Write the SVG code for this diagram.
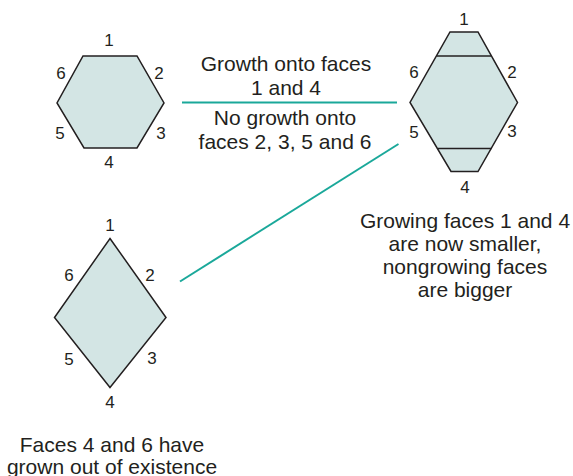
<svg xmlns="http://www.w3.org/2000/svg" width="573" height="476" viewBox="0 0 573 476">
<style>
.shape{fill:#d3e5e4;stroke:#231f20;stroke-width:1.5;stroke-linejoin:miter}
.div{stroke:#231f20;stroke-width:1.5;fill:none}
.num{font-family:"Liberation Sans",Arial,sans-serif;font-size:17px;fill:#231f20;text-anchor:middle}
.txt{font-family:"Liberation Sans",Arial,sans-serif;font-size:21px;fill:#231f20;text-anchor:middle}
.conn{stroke:#1aa89a;stroke-width:2;fill:none}
</style>
<rect width="573" height="476" fill="#ffffff"/>
<g id="connectors">
<line class="conn" x1="182" y1="102.5" x2="397" y2="102.5"/>
<line class="conn" x1="180" y1="281.5" x2="398.5" y2="144"/>
</g>
<g id="hexagon-original">
<polygon class="shape" points="83,56 137,56 164,103 137,148 84,148 57,103"/>
<text class="num" x="109" y="46">1</text>
<text class="num" x="61" y="78.5">6</text>
<text class="num" x="159" y="78.5">2</text>
<text class="num" x="60" y="139">5</text>
<text class="num" x="161" y="139">3</text>
<text class="num" x="109" y="167.5">4</text>
</g>
<g id="hexagon-grown">
<polygon class="shape" points="450,32 478,32 517.5,102.5 478,171.5 451,171.5 410,102.5"/>
<line class="div" x1="436.5" y1="56" x2="491" y2="56"/>
<line class="div" x1="438" y1="148.5" x2="491.5" y2="148.5"/>
<text class="num" x="464" y="24.5">1</text>
<text class="num" x="414" y="77.5">6</text>
<text class="num" x="512" y="78">2</text>
<text class="num" x="414" y="137.5">5</text>
<text class="num" x="512" y="137">3</text>
<text class="num" x="465" y="192.5">4</text>
</g>
<g id="rhombus">
<polygon class="shape" points="110,238.5 166,317.5 110,387.5 54.5,317.5"/>
<text class="num" x="110" y="231">1</text>
<text class="num" x="69" y="281">6</text>
<text class="num" x="150" y="281">2</text>
<text class="num" x="69" y="364.5">5</text>
<text class="num" x="152" y="364">3</text>
<text class="num" x="110" y="407.5">4</text>
</g>
<g id="label-growth">
<text class="txt" x="286" y="70.5">Growth onto faces</text>
<text class="txt" x="286" y="95">1 and 4</text>
<text class="txt" x="285" y="125">No growth onto</text>
<text class="txt" x="285" y="148.5">faces 2, 3, 5 and 6</text>
</g>
<g id="label-hexagon">
<text class="txt" x="465" y="228">Growing faces 1 and 4</text>
<text class="txt" x="465" y="251">are now smaller,</text>
<text class="txt" x="465" y="274">nongrowing faces</text>
<text class="txt" x="465" y="297">are bigger</text>
</g>
<g id="label-rhombus">
<text class="txt" x="112" y="451.5">Faces 4 and 6 have</text>
<text class="txt" x="112" y="473.5">grown out of existence</text>
</g>
</svg>
